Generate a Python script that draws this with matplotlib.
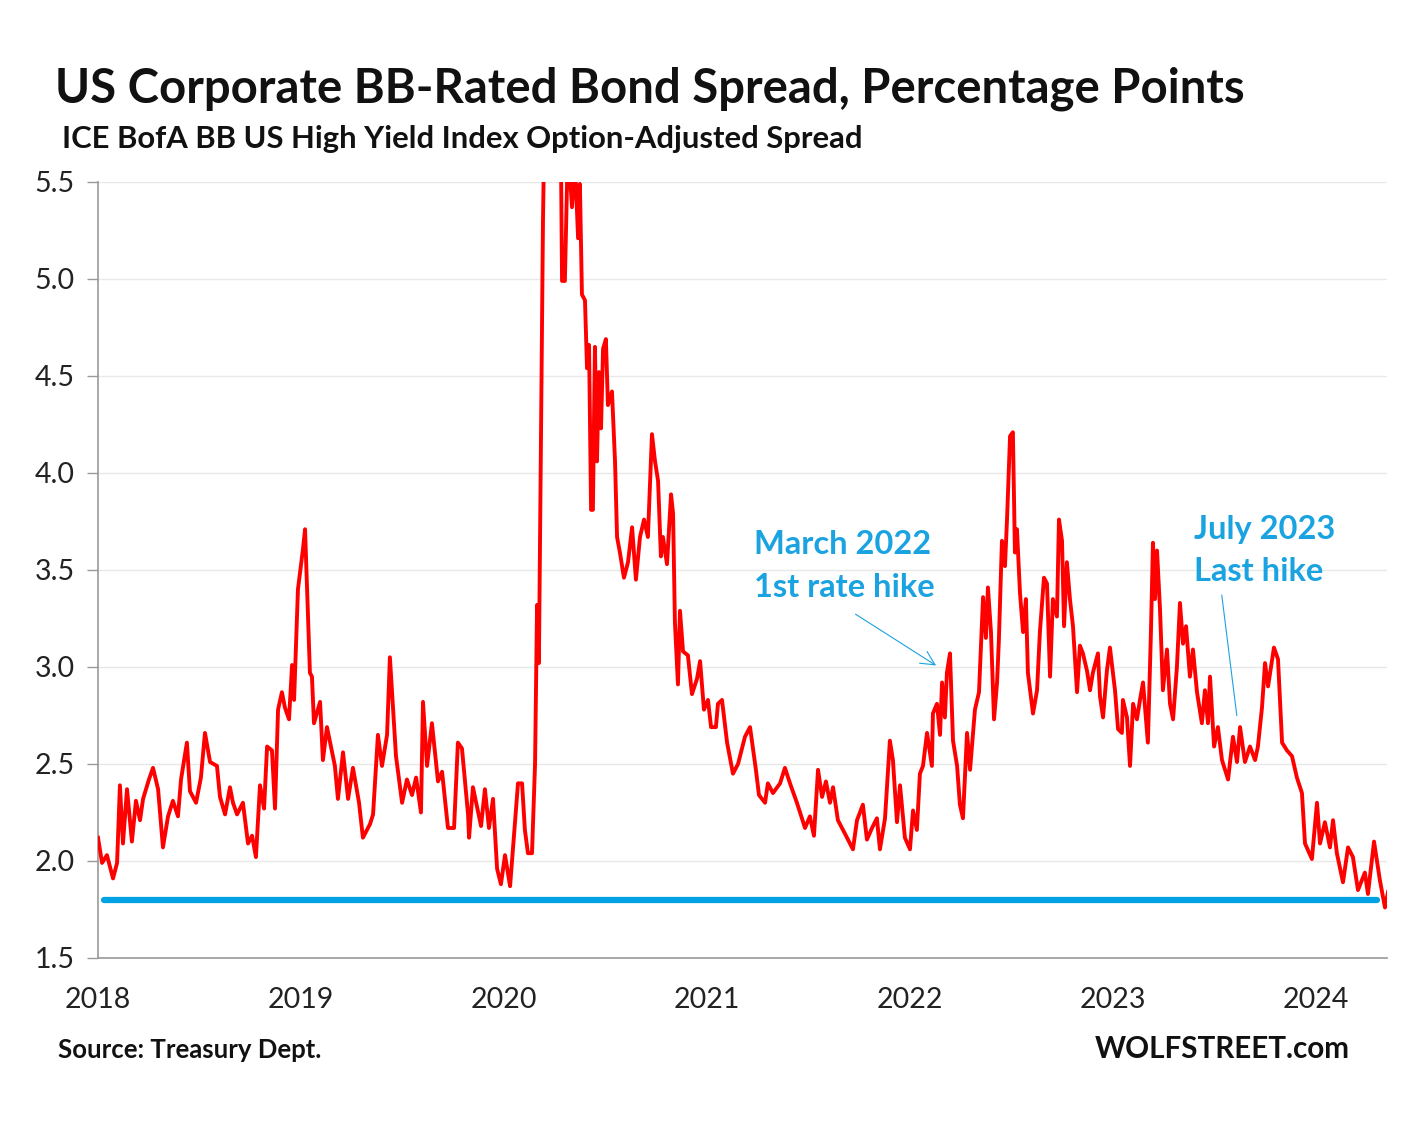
import matplotlib
matplotlib.use("Agg")
import matplotlib.pyplot as plt

# decimal year, BB OAS spread (percentage points)
t = [
    2018.000, 2018.020, 2018.044, 2018.074, 2018.094, 2018.108, 2018.123, 2018.143,
    2018.167, 2018.187, 2018.207, 2018.222, 2018.251, 2018.271, 2018.296, 2018.320,
    2018.345, 2018.369, 2018.394, 2018.409, 2018.438, 2018.453, 2018.483, 2018.507,
    2018.527, 2018.552, 2018.586, 2018.601, 2018.626, 2018.650, 2018.665, 2018.685,
    2018.714, 2018.739, 2018.759, 2018.778, 2018.798, 2018.818, 2018.833, 2018.857,
    2018.872, 2018.887, 2018.906, 2018.921, 2018.941, 2018.956, 2018.966, 2018.985,
    2019.010, 2019.020, 2019.044, 2019.054, 2019.064, 2019.094, 2019.108, 2019.128,
    2019.167, 2019.182, 2019.207, 2019.232, 2019.256, 2019.286, 2019.305, 2019.340,
    2019.355, 2019.379, 2019.399, 2019.424, 2019.438, 2019.468, 2019.498, 2019.522,
    2019.547, 2019.567, 2019.591, 2019.601, 2019.621, 2019.645, 2019.675, 2019.695,
    2019.724, 2019.754, 2019.773, 2019.793, 2019.823, 2019.828, 2019.847, 2019.887,
    2019.906, 2019.926, 2019.946, 2019.966, 2019.985, 2020.005, 2020.030, 2020.069,
    2020.089, 2020.103, 2020.118, 2020.138, 2020.153, 2020.163, 2020.172, 2020.187,
    2020.192, 2020.202, 2020.236, 2020.276, 2020.286, 2020.300, 2020.310, 2020.315,
    2020.335, 2020.350, 2020.365, 2020.374, 2020.384, 2020.399, 2020.409, 2020.419,
    2020.429, 2020.438, 2020.448, 2020.458, 2020.468, 2020.478, 2020.488, 2020.502,
    2020.512, 2020.532, 2020.547, 2020.557, 2020.571, 2020.591, 2020.611, 2020.631,
    2020.650, 2020.670, 2020.690, 2020.709, 2020.729, 2020.744, 2020.759, 2020.773,
    2020.783, 2020.803, 2020.823, 2020.833, 2020.842, 2020.857, 2020.867, 2020.882,
    2020.906, 2020.926, 2020.951, 2020.966, 2020.985, 2021.005, 2021.020, 2021.044,
    2021.054, 2021.074, 2021.099, 2021.128, 2021.153, 2021.187, 2021.212, 2021.241,
    2021.256, 2021.286, 2021.300, 2021.325, 2021.360, 2021.384, 2021.409, 2021.443,
    2021.483, 2021.507, 2021.527, 2021.547, 2021.567, 2021.586, 2021.606, 2021.621,
    2021.645, 2021.680, 2021.719, 2021.739, 2021.768, 2021.788, 2021.813, 2021.837,
    2021.852, 2021.877, 2021.901, 2021.916, 2021.936, 2021.951, 2021.975, 2022.000,
    2022.015, 2022.034, 2022.049, 2022.064, 2022.084, 2022.108, 2022.113, 2022.133,
    2022.148, 2022.158, 2022.172, 2022.182, 2022.197, 2022.212, 2022.232, 2022.246,
    2022.261, 2022.281, 2022.296, 2022.320, 2022.340, 2022.360, 2022.374, 2022.384,
    2022.399, 2022.414, 2022.429, 2022.438, 2022.453, 2022.468, 2022.478, 2022.493,
    2022.507, 2022.517, 2022.527, 2022.542, 2022.557, 2022.571, 2022.581, 2022.606,
    2022.626, 2022.640, 2022.660, 2022.675, 2022.690, 2022.704, 2022.724, 2022.734,
    2022.749, 2022.759, 2022.773, 2022.788, 2022.803, 2022.823, 2022.837, 2022.852,
    2022.872, 2022.887, 2022.901, 2022.926, 2022.936, 2022.951, 2022.970, 2022.985,
    2023.010, 2023.025, 2023.044, 2023.049, 2023.069, 2023.084, 2023.099, 2023.118,
    2023.133, 2023.148, 2023.172, 2023.187, 2023.197, 2023.207, 2023.217, 2023.232,
    2023.246, 2023.266, 2023.281, 2023.296, 2023.315, 2023.330, 2023.345, 2023.360,
    2023.379, 2023.394, 2023.414, 2023.438, 2023.453, 2023.468, 2023.478, 2023.498,
    2023.517, 2023.537, 2023.567, 2023.591, 2023.611, 2023.626, 2023.650, 2023.675,
    2023.700, 2023.714, 2023.734, 2023.749, 2023.764, 2023.793, 2023.813, 2023.833,
    2023.857, 2023.882, 2023.906, 2023.931, 2023.946, 2023.980, 2024.005, 2024.020,
    2024.044, 2024.069, 2024.084, 2024.103, 2024.133, 2024.158, 2024.182, 2024.207,
    2024.241, 2024.256, 2024.286, 2024.315, 2024.340, 2024.355,
]
spread = [
    2.12, 1.99, 2.03, 1.91, 1.99, 2.39, 2.09, 2.37,
    2.10, 2.31, 2.21, 2.32, 2.42, 2.48, 2.37, 2.07,
    2.23, 2.31, 2.23, 2.42, 2.61, 2.36, 2.30, 2.43,
    2.66, 2.51, 2.49, 2.33, 2.24, 2.38, 2.30, 2.24,
    2.30, 2.09, 2.13, 2.02, 2.39, 2.27, 2.59, 2.57,
    2.27, 2.78, 2.87, 2.79, 2.73, 3.01, 2.83, 3.40,
    3.61, 3.71, 2.97, 2.95, 2.71, 2.82, 2.52, 2.69,
    2.49, 2.32, 2.56, 2.32, 2.48, 2.30, 2.12, 2.19,
    2.24, 2.65, 2.49, 2.65, 3.05, 2.54, 2.30, 2.42,
    2.34, 2.43, 2.25, 2.82, 2.49, 2.71, 2.41, 2.46,
    2.17, 2.17, 2.61, 2.58, 2.24, 2.12, 2.38, 2.18,
    2.37, 2.17, 2.32, 1.96, 1.88, 2.03, 1.87, 2.40,
    2.40, 2.16, 2.04, 2.04, 2.50, 3.32, 3.02, 4.69,
    5.29, 6.00, 6.80, 6.20, 4.99, 4.99, 5.46, 5.70,
    5.37, 5.60, 5.21, 5.49, 4.92, 4.89, 4.54, 4.66,
    3.81, 3.81, 4.65, 4.06, 4.52, 4.23, 4.64, 4.69,
    4.35, 4.42, 4.06, 3.67, 3.59, 3.46, 3.54, 3.72,
    3.45, 3.67, 3.76, 3.67, 4.20, 4.06, 3.96, 3.57,
    3.67, 3.53, 3.89, 3.79, 3.23, 2.91, 3.29, 3.08,
    3.06, 2.86, 2.94, 3.03, 2.78, 2.83, 2.69, 2.69,
    2.81, 2.83, 2.61, 2.45, 2.50, 2.64, 2.69, 2.47,
    2.34, 2.30, 2.40, 2.35, 2.40, 2.48, 2.40, 2.30,
    2.17, 2.23, 2.13, 2.47, 2.33, 2.41, 2.30, 2.38,
    2.21, 2.14, 2.06, 2.21, 2.29, 2.11, 2.17, 2.22,
    2.06, 2.22, 2.62, 2.52, 2.20, 2.39, 2.12, 2.06,
    2.26, 2.16, 2.45, 2.49, 2.66, 2.49, 2.76, 2.81,
    2.65, 2.92, 2.74, 2.97, 3.07, 2.62, 2.49, 2.29,
    2.22, 2.66, 2.47, 2.78, 2.87, 3.36, 3.15, 3.41,
    3.18, 2.73, 2.92, 3.14, 3.65, 3.52, 3.76, 4.19,
    4.21, 3.59, 3.71, 3.38, 3.18, 3.35, 2.97, 2.76,
    2.88, 3.18, 3.46, 3.43, 2.95, 3.35, 3.26, 3.76,
    3.65, 3.21, 3.54, 3.35, 3.21, 2.87, 3.11, 3.07,
    2.98, 2.88, 2.97, 3.07, 2.85, 2.74, 2.98, 3.10,
    2.88, 2.68, 2.66, 2.83, 2.74, 2.49, 2.81, 2.73,
    2.83, 2.92, 2.61, 3.18, 3.64, 3.35, 3.60, 3.29,
    2.88, 3.09, 2.81, 2.73, 3.00, 3.33, 3.12, 3.21,
    2.95, 3.09, 2.87, 2.71, 2.88, 2.71, 2.95, 2.59,
    2.69, 2.52, 2.42, 2.64, 2.51, 2.69, 2.51, 2.59,
    2.52, 2.59, 2.79, 3.02, 2.90, 3.10, 3.04, 2.61,
    2.57, 2.54, 2.43, 2.35, 2.09, 2.01, 2.30, 2.09,
    2.20, 2.07, 2.21, 2.04, 1.89, 2.07, 2.02, 1.85,
    1.94, 1.83, 2.10, 1.90, 1.76, 1.84,
]

# reference level line
ref_start, ref_end, ref_level = 2018.03, 2024.30, 1.80

years = [2018, 2019, 2020, 2021, 2022, 2023, 2024]
y_ticks = [1.5, 2.0, 2.5, 3.0, 3.5, 4.0, 4.5, 5.0, 5.5]

plt.rcParams["font.family"] = ["Lato", "DejaVu Sans"]
blue = "#1AA3E0"

fig = plt.figure(figsize=(14.1, 11.22), dpi=100)
ax = fig.add_axes([0.0695, 0.1462, 0.9142, 0.6916])

ax.plot(t, spread, color="#FF0000", linewidth=2.8, zorder=3)
ax.plot([ref_start, ref_end], [ref_level, ref_level], color="#00A2E3",
        linewidth=4.5, solid_capstyle="round", zorder=4)

ax.set_xlim(2018, 2024.35)
ax.set_ylim(1.5, 5.5)
ax.set_yticks(y_ticks)
ax.set_yticklabels([f"{v:.1f}" for v in y_ticks])
ax.set_xticks(years)
ax.set_xticklabels([str(y) for y in years])
ax.tick_params(axis="y", length=8, width=1, color="#999999", labelsize=20.5,
               pad=9, labelcolor="#222222")
ax.tick_params(axis="x", length=0, labelsize=20.5, pad=21, labelcolor="#222222")
ax.grid(axis="y", color="#e8e8e8", linewidth=1)
ax.set_axisbelow(True)
for side in ["top", "right"]:
    ax.spines[side].set_visible(False)
for side in ["left", "bottom"]:
    ax.spines[side].set_color("#999999")
    ax.spines[side].set_linewidth(1.2)

# annotations
ax.text(2021.23, 3.63, "March 2022", color=blue, fontsize=23.5, fontweight="bold",
        va="center", ha="left")
ax.text(2021.23, 3.41, "1st rate hike", color=blue, fontsize=23.5, fontweight="bold",
        va="center", ha="left")
ax.annotate("", xy=(2022.14, 3.0), xytext=(2021.72, 3.28),
            arrowprops=dict(arrowstyle="->", color=blue, lw=0.8,
                            mutation_scale=25))
ax.text(2023.40, 3.71, "July 2023", color=blue, fontsize=23.5, fontweight="bold",
        va="center", ha="left")
ax.text(2023.40, 3.49, "Last hike", color=blue, fontsize=23.5, fontweight="bold",
        va="center", ha="left")
ax.plot([2023.536, 2023.61], [3.37, 2.75], color=blue, linewidth=0.8)

fig.text(0.039, 0.909, "US Corporate BB-Rated Bond Spread, Percentage Points",
         fontsize=34, fontweight="bold", color="#111111", va="baseline")
fig.text(0.044, 0.868, "ICE BofA BB US High Yield Index Option-Adjusted Spread",
         fontsize=22.3, fontweight="bold", color="#111111", va="baseline")
fig.text(0.041, 0.057, "Source: Treasury Dept.", fontsize=18.5, fontweight="bold",
         color="#111111", va="baseline")
fig.text(0.957, 0.057, "WOLFSTREET.com", fontsize=21.3, fontweight="bold",
         color="#111111", va="baseline", ha="right")

fig.savefig("out.png", dpi=100, facecolor="white")
